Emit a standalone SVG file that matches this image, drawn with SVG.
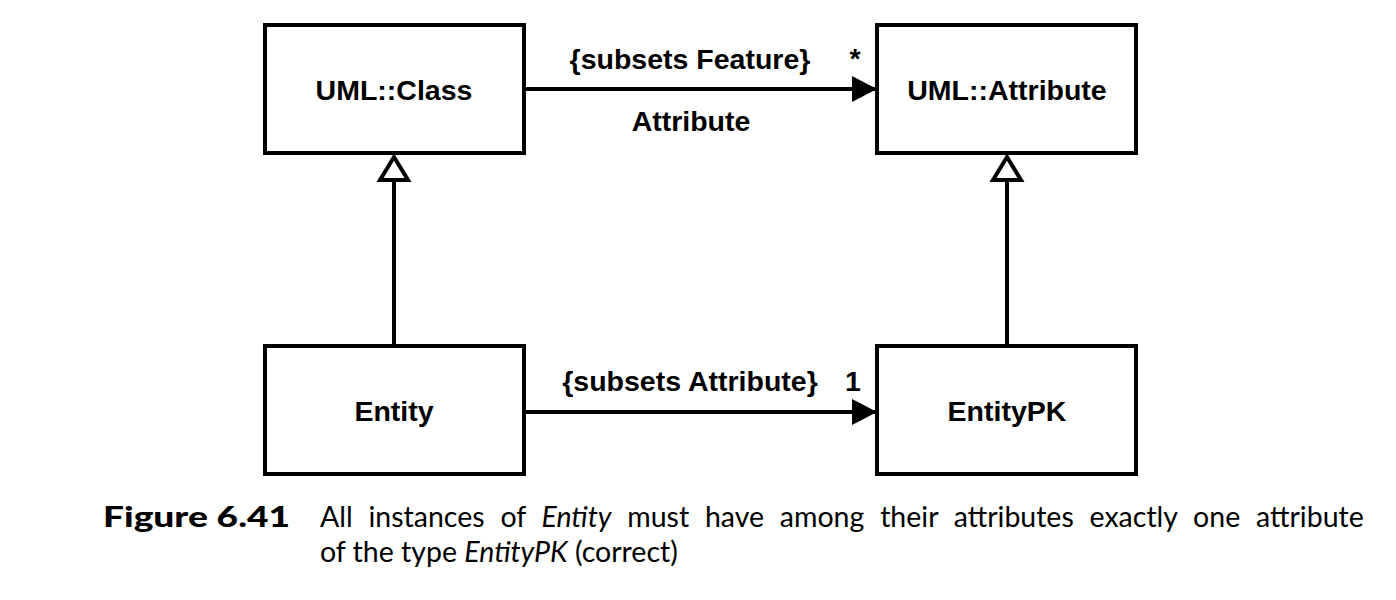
<svg xmlns="http://www.w3.org/2000/svg" width="1396" height="600" viewBox="0 0 1396 600">
<style>
.box{fill:#fff;stroke:#000;stroke-width:4}
.lbl{font-family:"Liberation Sans",Arial,sans-serif;font-weight:bold;font-size:28.5px;fill:#000}
.line{stroke:#000;stroke-width:4;fill:none}
.cap{font-family:Lato,"Open Sans",sans-serif;font-size:28.5px;fill:#000}
</style>
<defs>
<marker id="filled" markerUnits="userSpaceOnUse" markerWidth="26" markerHeight="28" refX="25" refY="14" orient="auto">
<path d="M0,1 L25,14 L0,27 Z" fill="#000"/>
</marker>
</defs>
<rect width="1396" height="600" fill="#fff"/>
<g id="connectors">
<line class="line" x1="524" y1="89" x2="877" y2="89" marker-end="url(#filled)"/>
<line class="line" x1="524" y1="412" x2="877" y2="412" marker-end="url(#filled)"/>
<line class="line" x1="394" y1="346" x2="394" y2="181"/>
<path d="M394,157 L408,180 L380,180 Z" fill="#fff" stroke="#000" stroke-width="4" stroke-linejoin="miter"/>
<line class="line" x1="1007" y1="346" x2="1007" y2="181"/>
<path d="M1007,157 L1021,180 L993,180 Z" fill="#fff" stroke="#000" stroke-width="4" stroke-linejoin="miter"/>
<text class="lbl" x="690" y="69" text-anchor="middle">{subsets Feature}</text>
<text class="lbl" x="855" y="68" text-anchor="middle">*</text>
<text class="lbl" x="691" y="131" text-anchor="middle">Attribute</text>
<text class="lbl" x="690" y="391" text-anchor="middle">{subsets Attribute}</text>
<text class="lbl" x="853" y="391" text-anchor="middle">1</text>
</g>
<g id="uml-class">
<rect class="box" x="265" y="25" width="259" height="128"/>
<text class="lbl" x="394" y="100" text-anchor="middle">UML::Class</text>
</g>
<g id="uml-attribute">
<rect class="box" x="877" y="25" width="259" height="128"/>
<text class="lbl" x="1007" y="100" text-anchor="middle">UML::Attribute</text>
</g>
<g id="entity">
<rect class="box" x="265" y="346" width="259" height="128"/>
<text class="lbl" x="394" y="421" text-anchor="middle">Entity</text>
</g>
<g id="entitypk">
<rect class="box" x="877" y="346" width="259" height="128"/>
<text class="lbl" x="1007" y="421" text-anchor="middle">EntityPK</text>
</g>
<g id="caption">
<text class="cap" x="103" y="527" font-weight="900" textLength="187" lengthAdjust="spacingAndGlyphs">Figure 6.41</text>
<text class="cap" x="320" y="527" word-spacing="8.5">All instances of <tspan font-style="italic">Entity</tspan> must have among their attributes exactly one attribute</text>
<text class="cap" x="320" y="562">of the type <tspan font-style="italic">EntityPK</tspan> (correct)</text>
</g>
</svg>
